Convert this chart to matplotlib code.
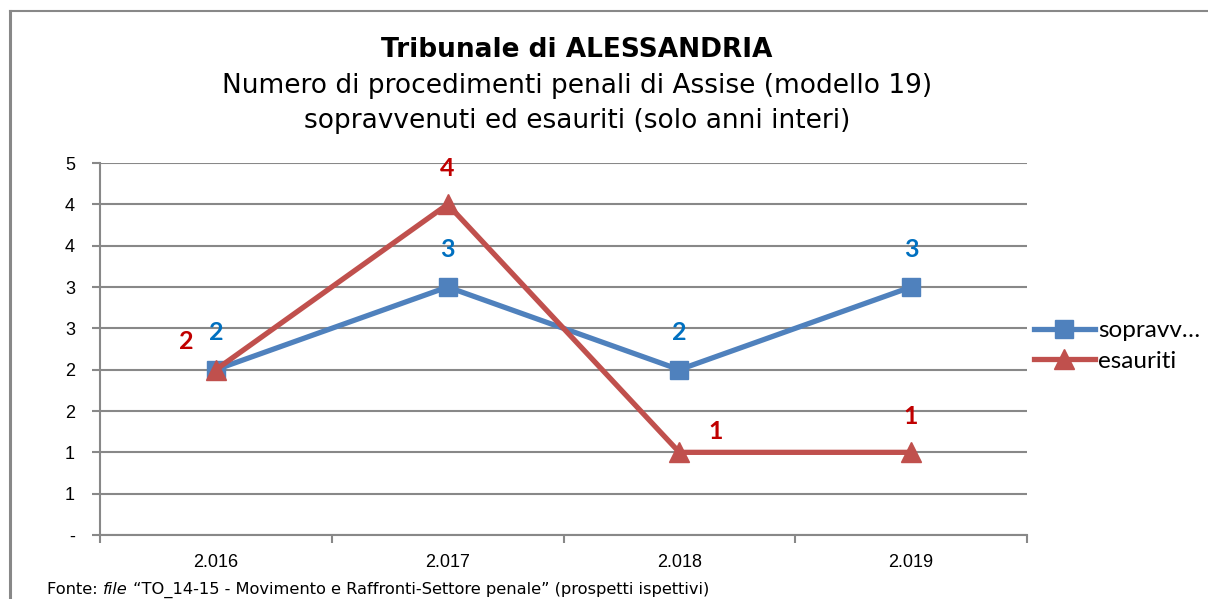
import matplotlib.pyplot as plt
from matplotlib.lines import Line2D
import numpy as np

YEARS = ["2.016", "2.017", "2.018", "2.019"]
SOPRAVV = [2, 3, 2, 3]
ESAURITI = [2, 4, 1, 1]
Y_TICKS = [0, 0.5, 1, 1.5, 2, 2.5, 3, 3.5, 4, 4.5]
Y_LABELS = ["-", "1", "1", "2", "2", "3", "3", "4", "4", "5"]

TITLE = "Tribunale di ALESSANDRIA"
SUB1 = "Numero di procedimenti penali di Assise (modello 19)"
SUB2 = "sopravvenuti ed esauriti (solo anni interi)"

BLUE = "#4F81BD"
RED = "#C0504D"
BLUE_LBL = "#0070C0"
RED_LBL = "#C00000"
GRID = "#888888"

W, H = 1208, 599
fig = plt.figure(figsize=(W / 100, H / 100), dpi=100)
ax = fig.add_axes([100 / W, 1 - 535 / H, 927 / W, 372 / H])

x = np.arange(len(YEARS))
ax.plot(x, SOPRAVV, color=BLUE, lw=3.8, marker="s", ms=13, label="sopravv…", zorder=3)
ax.plot(x, ESAURITI, color=RED, lw=3.8, marker="^", ms=14, label="esauriti", zorder=4)

# data labels
lab_font = dict(fontsize=18, fontweight="bold", family="Lato")
for i, v in enumerate(SOPRAVV):
    ax.annotate(str(v), (i, v), xytext=(0, 27), textcoords="offset points",
                ha="center", va="center", color=BLUE_LBL, **lab_font)
red_offsets = [(-21, 20), (0, 26), (26, 15), (0, 26)]
for i, v in enumerate(ESAURITI):
    ax.annotate(str(v), (i, v), xytext=red_offsets[i], textcoords="offset points",
                ha="center", va="center", color=RED_LBL, **lab_font)

ax.set_xlim(-0.5, 3.5)
ax.set_ylim(0, 4.5)
ax.set_yticks(Y_TICKS)
ax.set_yticklabels(Y_LABELS, family="Liberation Sans", fontsize=13)
ax.set_xticks(np.arange(-0.5, 3.6, 1))
ax.set_xticklabels([])
ax.set_xticks(x, minor=True)
ax.set_xticklabels(YEARS, minor=True, family="Liberation Sans", fontsize=13)
ax.tick_params(axis="x", which="minor", length=0, pad=14)
ax.tick_params(axis="x", which="major", length=6, color=GRID, width=1.5)
ax.tick_params(axis="y", length=6, color=GRID, width=1.5, pad=12)
ax.yaxis.grid(True, color=GRID, lw=1.5)
ax.set_axisbelow(True)
for s in ["top", "right"]:
    ax.spines[s].set_visible(False)
for s in ["left", "bottom"]:
    ax.spines[s].set_color(GRID)
    ax.spines[s].set_linewidth(1.5)

fig.legend(loc="center left", bbox_to_anchor=(1034 / W, 1 - 346 / H), frameon=False,
           prop={"family": "Lato", "size": 17.5}, handlelength=2.5, handletextpad=0.15,
           labelspacing=0.4, borderaxespad=0, borderpad=0)

fig.text(577 / W, 1 - 50 / H, TITLE, ha="center", va="center", fontsize=19,
         fontweight="bold", family="DejaVu Sans")
fig.text(577 / W, 1 - 86 / H, SUB1, ha="center", va="center", fontsize=19,
         family="DejaVu Sans")
fig.text(577 / W, 1 - 121 / H, SUB2, ha="center", va="center", fontsize=19,
         family="DejaVu Sans")

# footer with italic word
t1 = fig.text(47 / W, 1 - 590 / H, "Fonte: ", fontsize=11.7, family="DejaVu Sans",
              va="center")
t2 = fig.text(0, 0, "file", fontsize=11.7, family="DejaVu Sans", style="italic")
t3 = fig.text(0, 0, " \u201cTO_14-15 - Movimento e Raffronti-Settore penale\u201d (prospetti ispettivi)",
              fontsize=11.7, family="DejaVu Sans")
fig.canvas.draw()
r = fig.canvas.get_renderer()
b1 = t1.get_window_extent(r)
t2.set_position((b1.x1 / W, b1.y0 / H))
t2.set_va("bottom")
fig.canvas.draw()
b2 = t2.get_window_extent(r)
t3.set_position((b2.x1 / W, b1.y0 / H))
t3.set_va("bottom")

# outer chart frame
fig.add_artist(Line2D([9.5 / W, 9.5 / W], [0, 1 - 11 / H], color=GRID, lw=2.2))
fig.add_artist(Line2D([9.5 / W, 1], [1 - 11 / H, 1 - 11 / H], color=GRID, lw=1.5))

fig.savefig("out.png", dpi=100)
